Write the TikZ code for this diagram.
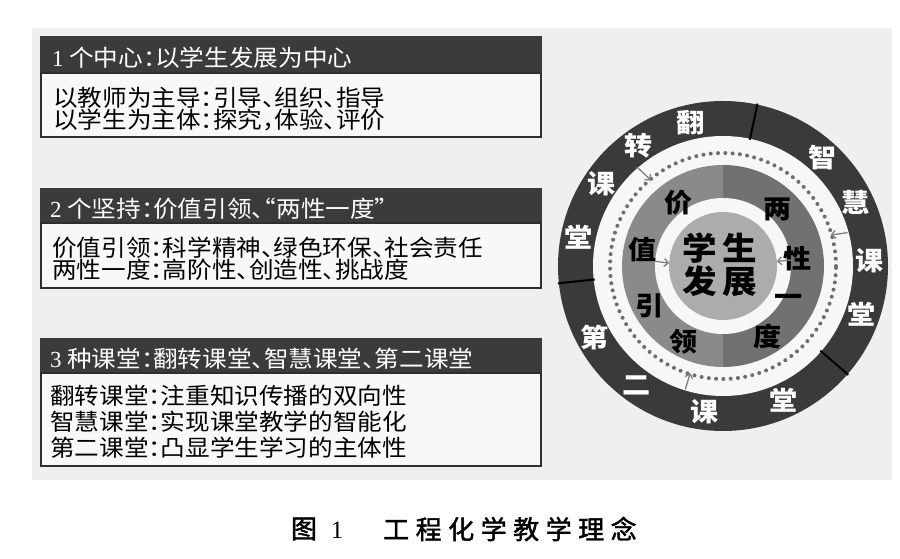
\documentclass[tikz,border=0pt]{standalone}
\usepackage{fontspec}
\setmainfont{Liberation Serif}
\newfontfamily\cjk[FakeStretch=1.07,RawFeature={+halt}]{Noto Sans CJK SC}
\newfontfamily\cjkr[FakeStretch=1.08]{Noto Sans CJK SC}
\newfontfamily\capfont[LetterSpace=25,FakeBold=1.6]{Noto Sans CJK SC}
\usetikzlibrary{arrows.meta,calc}
\definecolor{panel}{HTML}{EFEFEF}
\definecolor{hdr}{HTML}{3B3B3B}
\definecolor{bodyfill}{HTML}{F8F8F8}
\definecolor{bodyline}{HTML}{2E2E2E}
\definecolor{ringdark}{HTML}{3A3A3A}
\definecolor{ringwhite}{HTML}{F7F7F7}
\definecolor{midleft}{HTML}{8A8A8A}
\definecolor{midright}{HTML}{717171}
\definecolor{centergray}{HTML}{ACACAC}
\definecolor{dotgray}{HTML}{6E6E6E}
\definecolor{arrgray}{HTML}{808080}
\tikzset{
  hdrbar/.style={fill=hdr},
  bodybox/.style={fill=bodyfill,draw=bodyline,line width=2.4pt},
  txt/.style={anchor=west,inner sep=0pt,text height=20.2pt,text depth=2.8pt,
    font=\cjk\fontsize{23}{24}\selectfont},
  hdrtxt/.style={txt,text=white},
  outtxt/.style={inner sep=0pt,text=white,font=\cjkr\bfseries\fontsize{26}{26}\selectfont},
  midtxt/.style={inner sep=0pt,text=black,font=\cjkr\bfseries\fontsize{26}{26}\selectfont},
  ctrtxt/.style={inner sep=0pt,text=black,font=\cjkr\bfseries\fontsize{32}{32}\selectfont},
  captxt/.style={inner sep=0pt,text=black,font=\capfont\fontsize{26}{26}\selectfont},
  sepline/.style={draw=black,line width=2pt},
  dotring/.style={draw=dotgray,line width=4pt,line cap=round,dash pattern=on 0pt off 7.3pt},
  arr/.style={draw=arrgray,line width=1.3pt,-{Straight Barb[length=4pt,width=8pt]}}
}
\begin{document}
\begin{tikzpicture}[x=1pt,y=1pt]
\useasboundingbox (0,0) rectangle (900,559);
\fill[white] (0,0) rectangle (900,559);
\fill[panel] (32,79) rectangle (892,531);

% box 1
\fill[hdrbar] (40,486) rectangle (542,523);
\draw[bodybox] (41.2,422.2) rectangle (540.8,486);
\node[hdrtxt] (h1) at (52,501) {{\rmfamily 1} 个中心：以学生发展为中心};
\node[txt] (b11) at (53,461) {以教师为主导：引导、组织、指导};
\node[txt] (b12) at (53,439) {以学生为主体：探究，体验、评价};

% box 2
\fill[hdrbar] (40,336) rectangle (542,371);
\draw[bodybox] (41.2,271.2) rectangle (540.8,336);
\node[hdrtxt] (h2) at (50,350) {{\rmfamily 2} 个坚持：价值引领、“两性一度”};
\node[txt] (b21) at (52,311) {价值引领：科学精神、绿色环保、社会责任};
\node[txt] (b22) at (52,289) {两性一度：高阶性、创造性、挑战度};

% box 3
\fill[hdrbar] (40,186) rectangle (542,221);
\draw[bodybox] (41.2,93.2) rectangle (540.8,186);
\node[hdrtxt] (h3) at (50,200) {{\rmfamily 3} 种课堂：翻转课堂、智慧课堂、第二课堂};
\node[txt] (b31) at (50,163) {翻转课堂：注重知识传播的双向性};
\node[txt] (b32) at (50,137) {智慧课堂：实现课堂教学的智能化};
\node[txt] (b33) at (50,111) {第二课堂：凸显学生学习的主体性};

% circle diagram
\coordinate (C) at (723,293);
\fill[ringdark] (C) circle (165);
\fill[ringwhite] (C) circle (130);
\fill[midleft] ($(C)+(0,101)$) arc[start angle=90,end angle=270,radius=101] -- cycle;
\fill[midright] ($(C)+(0,-101)$) arc[start angle=-90,end angle=90,radius=101] -- cycle;
\fill[ringwhite] (C) circle (68);
\fill[centergray] (C) circle (54);
\draw[dotring] (C) circle (113);
\foreach \a [count=\i] in {78,186,-41}{
  \coordinate (s\i a) at ($(C)+(\a:129)$);
  \coordinate (s\i b) at ($(C)+(\a:166)$);
  \draw[sepline] (s\i a) -- (s\i b);
}

% outer ring text
\foreach \a/\t [count=\i] in {102.8/翻,125/转,146/课,168.6/堂,208.9/第,234/二,262.8/课,294.4/堂,47.5/智,25.7/慧,2.2/课,-19/堂}{
  \node[outtxt] (o\i) at ($(C)+(\a:147)$) {\t};
}

% middle ring text
\foreach \a/\r/\t [count=\i] in {125/77/价,168.5/82/值,208.6/84/引,242.6/85/领,46/79/两,5.6/75/性,-28/74/一,-57.6/84/度}{
  \node[midtxt] (m\i) at ($(C)+(\a:\r)$) {\t};
}

% centre text
\node[ctrtxt] (ct1) at (720,311) {学\,生};
\node[ctrtxt] (ct2) at (720,277.5) {发\,展};

% arrows
\coordinate (a1s) at ($(C)+(131:131)$);
\coordinate (a1e) at ($(C)+(130:112)$);
\coordinate (a2s) at ($(C)+(15:129)$);
\coordinate (a2e) at ($(C)+(16:112)$);
\coordinate (a3s) at ($(C)+(253:129)$);
\coordinate (a3e) at ($(C)+(253:112)$);
\coordinate (a4s) at ($(C)+(176:68)$);
\coordinate (a4e) at ($(C)+(177:54)$);
\coordinate (a5s) at ($(C)+(5:69)$);
\coordinate (a5e) at ($(C)+(5:54)$);
\draw[arr] (a1s) -- (a1e);
\draw[arr] (a2s) -- (a2e);
\draw[arr] (a3s) -- (a3e);
\draw[arr] (a4s) -- (a4e);
\draw[arr] (a5s) -- (a5e);

% caption
\node[captxt] (cap1) at (304,30) {图};
\node[inner sep=0pt,font=\rmfamily\fontsize{25}{25}\selectfont] (cap2) at (337,29) {1};
\node[captxt,anchor=west] (cap3) at (383,30) {工程化学教学理念};
\end{tikzpicture}
\end{document}
